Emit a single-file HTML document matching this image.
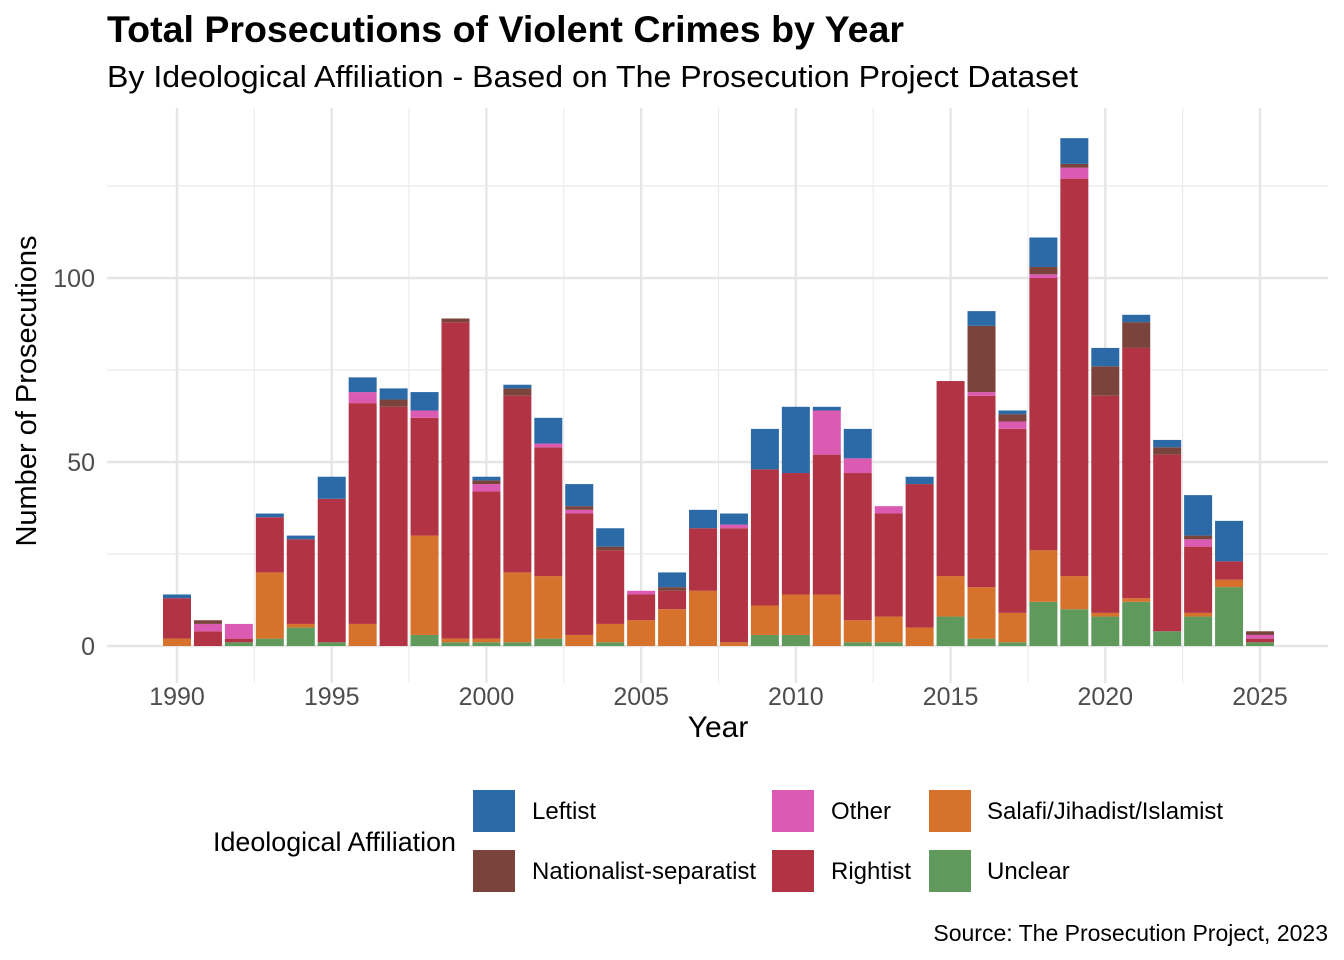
<!DOCTYPE html>
<html><head><meta charset="utf-8"><style>
body{margin:0;background:#fff;}
svg{display:block;font-family:"Liberation Sans",Arial,sans-serif;}
</style></head><body>
<svg id="chart" width="1344" height="960" viewBox="0 0 1344 960">
<text x="107" y="42" font-size="37" font-weight="bold" fill="#000" textLength="797" lengthAdjust="spacingAndGlyphs">Total Prosecutions of Violent Crimes by Year</text>
<text x="107" y="87" font-size="31" fill="#000" textLength="971" lengthAdjust="spacingAndGlyphs">By Ideological Affiliation - Based on The Prosecution Project Dataset</text>
<g id="grid"></g>
<g id="bars"></g>
<g id="axes"></g>
<text x="718" y="737" font-size="30" text-anchor="middle" fill="#000">Year</text>
<text transform="translate(36,391) rotate(-90)" font-size="29" text-anchor="middle" fill="#000">Number of Prosecutions</text>
<g id="legend">
<text x="213" y="851" font-size="27" fill="#000" textLength="243" lengthAdjust="spacingAndGlyphs">Ideological Affiliation</text>
</g>
<text x="1328" y="941" font-size="23" text-anchor="end" fill="#000">Source: The Prosecution Project, 2023</text>
</svg>
<script>
const years = [1990,1991,1992,1993,1994,1995,1996,1997,1998,1999,2000,2001,2002,2003,2004,2005,2006,2007,2008,2009,2010,2011,2012,2013,2014,2015,2016,2017,2018,2019,2020,2021,2022,2023,2024,2025];
const unclear    = [0,0,1,2,5,1,0,0,3,1,1,1,2,0,1,0,0,0,0,3,3,0,1,1,0,8,2,1,12,10,8,12,4,8,16,1];
const salafi     = [2,0,0,18,1,0,6,0,27,1,1,19,17,3,5,7,10,15,1,8,11,14,6,7,5,11,14,8,14,9,1,1,0,1,2,0];
const rightist   = [11,4,1,15,23,39,60,65,32,86,40,48,35,33,20,7,5,17,31,37,33,38,40,28,39,53,52,50,74,108,59,68,48,18,5,1];
const other      = [0,2,4,0,0,0,3,0,2,0,2,0,1,1,0,1,0,0,1,0,0,12,4,2,0,0,1,2,1,3,0,0,0,2,0,1];
const nationalist= [0,1,0,0,0,0,0,2,0,1,1,2,0,1,1,0,1,0,0,0,0,0,0,0,0,0,18,2,2,1,8,7,2,1,0,1];
const leftist    = [1,0,0,1,1,6,4,3,5,0,1,1,7,6,5,0,4,5,3,11,18,1,8,0,2,0,4,1,8,7,5,2,2,11,11,0];
const yTicks = [0,50,100];
const xTicks = [1990,1995,2000,2005,2010,2015,2020,2025];
const seriesNames = ["Unclear","Salafi/Jihadist/Islamist","Rightist","Other","Nationalist-separatist","Leftist"];

const NS="http://www.w3.org/2000/svg";
const colors={"Unclear":"#5f9a5c","Salafi/Jihadist/Islamist":"#d6722c","Rightist":"#b23444","Other":"#db5bb2","Nationalist-separatist":"#7a443c","Leftist":"#2b6aa7"};
const seriesData=[unclear,salafi,rightist,other,nationalist,leftist];
const L=107,R=1328,T=108,B=683;
function xs(v){return 177+(v-1990)*30.943;}
function ys(v){return 646-v*3.68;}
function mk(tag,attrs,parent){const e=document.createElementNS(NS,tag);for(const k in attrs)e.setAttribute(k,attrs[k]);parent.appendChild(e);return e;}
const grid=document.getElementById('grid'),bars=document.getElementById('bars'),axes=document.getElementById('axes'),legend=document.getElementById('legend');
for(let v=25;ys(v)>=T;v+=50){const l=mk('line',{x1:L,x2:R,y1:ys(v),y2:ys(v),stroke:'#ebebeb','stroke-width':1.2},grid);

}
for(let v=1992.5;v<=2022.5;v+=5){const l=mk('line',{x1:xs(v),x2:xs(v),y1:T,y2:B,stroke:'#ebebeb','stroke-width':1.2},grid);

}
yTicks.forEach(v=>{const l=mk('line',{x1:L,x2:R,y1:ys(v),y2:ys(v),stroke:'#e6e6e6','stroke-width':2.4},grid);


const t=mk('text',{x:95,y:ys(v)+9,'font-size':25,'text-anchor':'end',fill:'#4d4d4d'},axes);t.textContent=v;

});
xTicks.forEach(v=>{const l=mk('line',{x1:xs(v),x2:xs(v),y1:T,y2:B,stroke:'#e6e6e6','stroke-width':2.4},grid);


const t=mk('text',{x:xs(v),y:705,'font-size':25,'text-anchor':'middle',fill:'#4d4d4d'},axes);t.textContent=v;

});
const bw=28;
years.forEach((yr,i)=>{let cum=0;seriesData.forEach((arr,s)=>{const v=arr[i];if(v>0){const r=mk('rect',{x:xs(yr)-bw/2,y:ys(cum+v),width:bw,height:v*3.68,fill:colors[seriesNames[s]]},bars);

}cum+=v;});});
const leg=[["Leftist",473,790,532],["Nationalist-separatist",473,850,532],["Other",772,790,831],["Rightist",772,850,831],["Salafi/Jihadist/Islamist",929,790,987],["Unclear",929,850,987]];
leg.forEach(([n,kx,ky,tx])=>{const k=mk('rect',{x:kx,y:ky,width:42,height:42,fill:colors[n]},legend);


const t=mk('text',{x:tx,y:ky+29,'font-size':24,fill:'#000'},legend);t.textContent=n;

});
</script>
</body></html>
